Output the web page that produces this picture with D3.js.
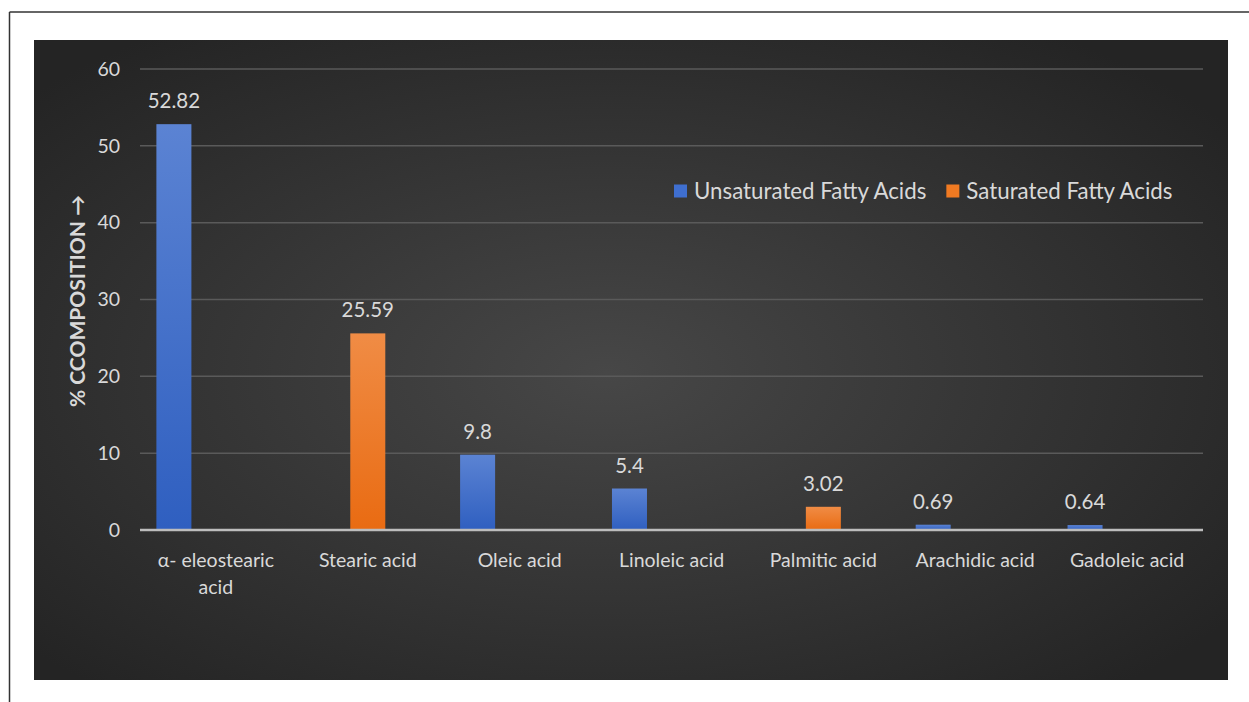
<!DOCTYPE html>
<html>
<head>
<meta charset="utf-8">
<script src="https://cdn.jsdelivr.net/npm/d3@7"></script>
<style>
  html, body { margin: 0; padding: 0; background: #fff; }
  svg { display: block; }
</style>
</head>
<body>
<div id="chart"></div>
<script>
// chart data
const categories = ["α- eleostearic acid", "Stearic acid", "Oleic acid", "Linoleic acid",
    "Palmitic acid", "Arachidic acid", "Gadoleic acid"];
const unsaturated = [52.82, null, 9.8, 5.4, null, 0.69, 0.64];
const saturated = [null, 25.59, null, null, 3.02, null, null];
const seriesNames = ["Unsaturated Fatty Acids", "Saturated Fatty Acids"];
const yTicks = [0, 10, 20, 30, 40, 50, 60];

const width = 1249, height = 702;
const font = "Lato, 'Open Sans', sans-serif";
const textColor = "#d9d9d9";

const svg = d3.select("#chart").append("svg")
    .attr("width", width)
    .attr("height", height);

const defs = svg.append("defs");

// dark background gradient
const bg = defs.append("radialGradient")
    .attr("id", "bg")
    .attr("cx", "48%").attr("cy", "52%").attr("r", "65%");
bg.append("stop").attr("offset", "0%").attr("stop-color", "#474747");
bg.append("stop").attr("offset", "100%").attr("stop-color", "#242424");

function barGradient(id, top, bottom) {
    const g = defs.append("linearGradient")
        .attr("id", id)
        .attr("x1", 0).attr("y1", 0).attr("x2", 0).attr("y2", 1);
    g.append("stop").attr("offset", "0%").attr("stop-color", top);
    g.append("stop").attr("offset", "100%").attr("stop-color", bottom);
}
barGradient("blue", "#5b83d3", "#2f5fc0");
barGradient("orange", "#f08c45", "#e96b12");
const fills = { "Unsaturated Fatty Acids": "url(#blue)", "Saturated Fatty Acids": "url(#orange)" };
const legendFills = { "Unsaturated Fatty Acids": "#3f6fd0", "Saturated Fatty Acids": "#f07a22" };

// page frame lines
svg.append("line")
    .attr("x1", 9.5).attr("x2", width).attr("y1", 12).attr("y2", 12)
    .attr("stroke", "#333").attr("stroke-width", 1.5);
svg.append("line")
    .attr("x1", 9.5).attr("x2", 9.5).attr("y1", 12).attr("y2", height)
    .attr("stroke", "#333").attr("stroke-width", 1.5);

// chart area
svg.append("rect")
    .attr("x", 34).attr("y", 40)
    .attr("width", 1194).attr("height", 640)
    .attr("fill", "url(#bg)");

const plot = { left: 140, right: 1203, top: 69, bottom: 530 };

const y = d3.scaleLinear().domain([0, 60]).range([plot.bottom, plot.top]);

const x = d3.scaleBand()
    .domain(categories)
    .range([plot.left, plot.right]);

// three slots per category (third one empty), like the source
const sub = d3.scaleBand()
    .domain([...seriesNames, "_"])
    .range([0, x.bandwidth()])
    .paddingInner(0.167)
    .paddingOuter(0.39);

// gridlines
svg.append("g")
    .selectAll("line")
    .data(yTicks.filter(d => d > 0))
    .join("line")
    .attr("x1", plot.left).attr("x2", plot.right)
    .attr("y1", d => y(d)).attr("y2", d => y(d))
    .attr("stroke", "#5a5a5a")
    .attr("stroke-width", 1.5);

// y axis labels
svg.append("g")
    .selectAll("text")
    .data(yTicks)
    .join("text")
    .attr("x", 120)
    .attr("y", d => y(d))
    .attr("dy", "0.35em")
    .attr("text-anchor", "end")
    .attr("font-family", font)
    .attr("font-size", 19.5)
    .attr("fill", textColor)
    .text(d => d);

// y title
svg.append("text")
    .attr("transform", "translate(85,301) rotate(-90)")
    .attr("text-anchor", "middle")
    .attr("font-family", font)
    .attr("font-size", 21)
    .attr("font-weight", "bold")
    .attr("fill", textColor)
    .text("% CCOMPOSITION →");

// bars
const barData = [];
categories.forEach((c, i) => {
    if (unsaturated[i] != null) barData.push({ cat: c, series: seriesNames[0], value: unsaturated[i] });
    if (saturated[i] != null) barData.push({ cat: c, series: seriesNames[1], value: saturated[i] });
});

svg.append("g")
    .selectAll("rect")
    .data(barData)
    .join("rect")
    .attr("x", d => x(d.cat) + sub(d.series))
    .attr("width", sub.bandwidth())
    .attr("y", d => y(d.value))
    .attr("height", d => y(0) - y(d.value))
    .attr("fill", d => fills[d.series]);

// value labels
svg.append("g")
    .selectAll("text")
    .data(barData)
    .join("text")
    .attr("x", d => x(d.cat) + sub(d.series) + sub.bandwidth() / 2)
    .attr("y", d => y(d.value) - 16)
    .attr("text-anchor", "middle")
    .attr("font-family", font)
    .attr("font-size", 20.5)
    .attr("fill", textColor)
    .text(d => d.value);

// x axis line
svg.append("line")
    .attr("x1", plot.left).attr("x2", plot.right)
    .attr("y1", y(0)).attr("y2", y(0))
    .attr("stroke", "#bdbdbd")
    .attr("stroke-width", 2.5);

// category labels, wrapped
const cx = d => x(d) + x.bandwidth() / 2;
const catLabels = svg.append("g")
    .selectAll("text")
    .data(categories)
    .join("text")
    .attr("x", cx)
    .attr("y", 567)
    .attr("text-anchor", "middle")
    .attr("font-family", font)
    .attr("font-size", 19.5)
    .attr("fill", textColor)
    .text(d => d);

catLabels.each(function (d) {
    const t = d3.select(this);
    if (this.getComputedTextLength() <= 130) return;
    const words = d.split(" ");
    t.text(null);
    let line = [];
    let tspan = t.append("tspan").attr("x", cx(d));
    words.forEach(w => {
        line.push(w);
        tspan.text(line.join(" "));
        if (tspan.node().getComputedTextLength() > 130 && line.length > 1) {
            line.pop();
            tspan.text(line.join(" "));
            line = [w];
            tspan = t.append("tspan").attr("x", cx(d)).attr("dy", 27).text(w);
        }
    });
});

// legend
const legend = svg.append("g").attr("transform", "translate(674,191)");
let lx = 0;
seriesNames.forEach(name => {
    const item = legend.append("g").attr("transform", `translate(${lx},0)`);
    item.append("rect")
        .attr("x", 0).attr("y", -6.5)
        .attr("width", 13).attr("height", 13)
        .attr("fill", legendFills[name]);
    const t = item.append("text")
        .attr("x", 20).attr("y", 0)
        .attr("dy", "0.35em")
        .attr("font-family", font)
        .attr("font-size", 22.3)
        .attr("fill", textColor)
        .text(name);
    lx += 20 + t.node().getComputedTextLength() + 20;
});
</script>
</body>
</html>
